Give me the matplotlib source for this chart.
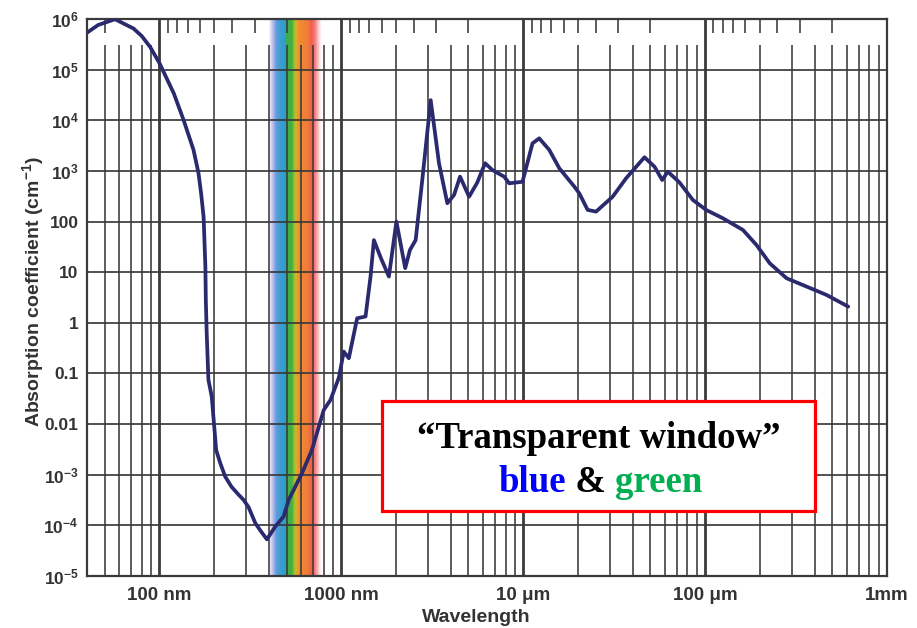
import numpy as np
import matplotlib
matplotlib.use("Agg")
import matplotlib.pyplot as plt
from matplotlib.ticker import NullLocator
from matplotlib.offsetbox import TextArea, HPacker, AnchoredOffsetbox
from matplotlib.patches import Rectangle
from matplotlib.colors import to_rgb

plt.rcParams.update({
    "font.family": ["Liberation Sans", "DejaVu Sans"],
    "font.weight": "bold",
    "mathtext.fontset": "custom",
    "mathtext.rm": "Liberation Sans:bold",
    "mathtext.bf": "Liberation Sans:bold",
    "mathtext.it": "Liberation Sans:bold:italic",
    "mathtext.default": "bf",
})

# Absorption spectrum of liquid water
wavelength_nm = [40, 46, 57, 72, 80, 89, 100, 120, 136, 154, 164, 170, 175, 179, 180, 182,
                 186, 194, 203, 205, 216, 230, 249, 273, 290, 309, 337, 360, 390, 434,
                 482, 514, 608, 690, 801, 872, 969, 1032, 1100, 1222, 1359, 1448, 1511,
                 1651, 1827, 2009, 2246, 2385, 2563, 2787, 3101, 3444, 3828, 4168, 4497,
                 5041, 5580, 6174, 6772, 7859, 8374, 9910, 11250, 12250, 13910, 15790,
                 19100, 20350, 22610, 25150, 31050, 36800, 46420, 52700, 58110, 62370,
                 72360, 85660, 101500, 125300, 161600, 191500, 226700, 280300, 361100,
                 465400, 612000]
absorption_cm = [5.36e5, 7.6e5, 9.9e5, 6.5e5, 4.6e5, 2.8e5, 1.35e5, 3.4e4, 1.0e4, 2.6e3, 910,
                 335, 123, 12.9, 2.83, 0.63, 0.075, 0.035, 4.9e-3, 3.1e-3, 1.7e-3, 9.2e-4,
                 5.8e-4, 4.0e-4, 3.2e-4, 2.3e-4, 1.1e-4, 7.8e-5, 5.3e-5, 9.5e-5, 1.5e-4,
                 3.2e-4, 1.07e-3, 3.1e-3, 0.019, 0.030, 0.082, 0.27, 0.20, 1.23, 1.33, 8.2,
                 43, 19, 8.2, 100, 12, 27.5, 43, 660, 2.5e4, 1.42e3, 230, 335, 770, 310,
                 580, 1.42e3, 1.04e3, 770, 570, 610, 3.5e3, 4.4e3, 2.6e3, 1.13e3, 490,
                 360, 170, 157, 310, 716, 1.86e3, 1.21e3, 660, 970, 590, 267, 169, 116,
                 68, 34.5, 15, 7.6, 5.2, 3.55, 2.09]

x_tick_values = [100, 1000, 1e4, 1e5, 1e6]
x_tick_labels = ["100 nm", "1000 nm", "10 \u03bcm", "100 \u03bcm", "1mm"]
y_tick_values = [1e-5, 1e-4, 1e-3, 1e-2, 1e-1, 1, 10, 100, 1e3, 1e4, 1e5, 1e6]
y_tick_labels = ["$10^{-5}$", "$10^{-4}$", "$10^{-3}$", "0.01", "0.1", "1", "10", "100",
                 "$10^{3}$", "$10^{4}$", "$10^{5}$", "$10^{6}$"]

# visible band colour stops (wavelength in nm)
spectrum_nm = [400, 410, 425, 440, 465, 494, 500, 538, 552, 568, 578, 660, 680, 710,
               735, 765, 782]
spectrum_colors = ["#ffffff", "#dcd8f2", "#aab2e6", "#5f9bd8", "#3a9ed2", "#2aa0c8",
                   "#3aab4c", "#4db040", "#9cc230", "#d8b028", "#f09030", "#ef7a38",
                   "#f05e48", "#f27070", "#f7a8a8", "#fde8e8", "#ffffff"]

GRID = "#3a3a3a"
TEXT = "#333333"
CURVE = "#2b2a6e"

fig = plt.figure(figsize=(9.17, 6.28), dpi=100)
ax = fig.add_axes([87 / 917, 1 - 576 / 628, 800 / 917, 557 / 628])
ax.set_xscale("log")
ax.set_yscale("log")
ax.set_xlim(40, 1e6)
ax.set_ylim(1e-5, 1e6)

# visible spectrum band
edges = np.geomspace(spectrum_nm[0], spectrum_nm[-1], 201)
log_stops = np.log10(spectrum_nm)
rgb_stops = np.array([to_rgb(c) for c in spectrum_colors])
for lo, hi in zip(edges[:-1], edges[1:]):
    mid = np.log10(np.sqrt(lo * hi))
    col = [np.interp(mid, log_stops, rgb_stops[:, i]) for i in range(3)]
    ax.axvspan(lo, hi, color=col, lw=0, zorder=0.5)

# grid: decades across the full height, sub-decades stop short of the top
xmin, xmax = ax.get_xlim()
minor_x = [k * 10 ** n for n in range(1, 6) for k in range(2, 10)
           if xmin < k * 10 ** n < xmax]
ax.vlines(minor_x, 0, 1 - 26 / 557, transform=ax.get_xaxis_transform(),
          color=GRID, lw=1.15, zorder=1)
for v in x_tick_values[:-1]:
    ax.axvline(v, color=GRID, lw=2.0, zorder=1)
for v in y_tick_values[1:-1]:
    ax.axhline(v, color=GRID, lw=1.25, zorder=1)

# wavenumber ticks along the top edge
wavenumber_cm = [k * 10 ** n for n in range(1, 6) for k in range(2, 10)]
top_x = [1e7 / nu for nu in wavenumber_cm if xmin < 1e7 / nu < xmax]
ax.vlines(top_x, 1 - 14 / 557, 1, transform=ax.get_xaxis_transform(),
          color=GRID, lw=1.15, zorder=1)

ax.plot(wavelength_nm, absorption_cm, color=CURVE, lw=2.7, zorder=3,
        solid_joinstyle="round", solid_capstyle="round")

for s in ax.spines.values():
    s.set_color(GRID)
    s.set_linewidth(1.6)

ax.set_xticks(x_tick_values, x_tick_labels)
ax.set_yticks(y_tick_values, y_tick_labels)
ax.xaxis.set_minor_locator(NullLocator())
ax.yaxis.set_minor_locator(NullLocator())
ax.tick_params(axis="x", length=0, pad=8, labelsize=13.5, labelcolor=TEXT)
ax.tick_params(axis="y", length=0, pad=6, labelsize=12.5, labelcolor=TEXT)

fig.text(476 / 917, 1 - 622 / 628, "Wavelength", ha="center", va="baseline",
         fontsize=14, fontweight="bold", color=TEXT)
fig.text(33 / 917, 1 - 292 / 628, "Absorption coefficient (cm$^{-1}$)", rotation=90,
         ha="center", va="center", fontsize=14, fontweight="bold", color=TEXT)

# annotation box
fig.add_artist(Rectangle((382 / 917, 1 - 511 / 628), 433 / 917, 110 / 628,
                         transform=fig.transFigure, facecolor="white",
                         edgecolor="#ff0000", lw=2.3, zorder=5))
serif = dict(family=["Liberation Serif", "DejaVu Serif"], fontweight="bold", fontsize=26.5)
line1 = TextArea("\u201cTransparent window\u201d", textprops=dict(color="black", **serif))
line2 = HPacker(children=[TextArea("blue", textprops=dict(color="#0000ff", **serif)),
                          TextArea(" & ", textprops=dict(color="black", **serif)),
                          TextArea("green", textprops=dict(color="#00b050", **serif))],
                sep=0, pad=0, align="baseline")
for child, (cx, cy) in ((line1, (599, 438)), (line2, (600, 483))):
    box = AnchoredOffsetbox(loc="center", child=child, pad=0, borderpad=0, frameon=False,
                            bbox_to_anchor=(cx / 917, 1 - cy / 628),
                            bbox_transform=fig.transFigure)
    box.set_zorder(6)
    fig.add_artist(box)

fig.savefig("out.png", dpi=100, facecolor="white")
